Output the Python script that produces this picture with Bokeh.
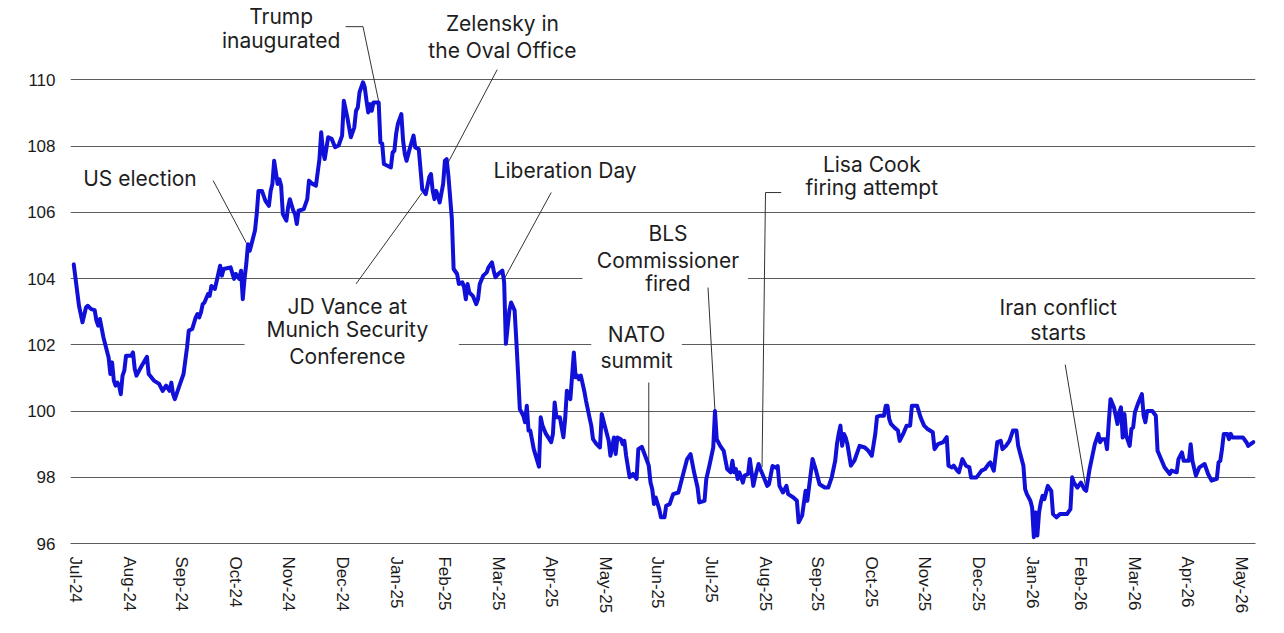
import pandas as pd
from bokeh.plotting import figure
from bokeh.models import Range1d, FixedTicker, ColumnDataSource
from bokeh.core.properties import value
from bokeh.embed import file_html
from bokeh.resources import INLINE

# ---------------- data ----------------
dates = [
    "2024-07-30", "2024-08-02", "2024-08-04", "2024-08-06", "2024-08-07", "2024-08-09", "2024-08-11",
    "2024-08-12", "2024-08-13", "2024-08-14", "2024-08-16", "2024-08-19", "2024-08-20", "2024-08-21",
    "2024-08-22", "2024-08-23", "2024-08-24", "2024-08-25", "2024-08-26", "2024-08-27", "2024-08-28",
    "2024-08-29", "2024-09-01", "2024-09-02", "2024-09-03", "2024-09-04", "2024-09-07", "2024-09-10",
    "2024-09-11", "2024-09-14", "2024-09-17", "2024-09-19", "2024-09-21", "2024-09-23", "2024-09-24",
    "2024-09-25", "2024-09-26", "2024-09-29", "2024-10-01", "2024-10-03", "2024-10-04", "2024-10-06",
    "2024-10-08", "2024-10-09", "2024-10-10", "2024-10-11", "2024-10-12", "2024-10-13", "2024-10-15",
    "2024-10-16", "2024-10-17", "2024-10-19", "2024-10-22", "2024-10-23", "2024-10-24", "2024-10-28",
    "2024-10-30", "2024-10-31", "2024-11-02", "2024-11-03", "2024-11-04", "2024-11-05", "2024-11-06",
    "2024-11-07", "2024-11-08", "2024-11-11", "2024-11-12", "2024-11-13", "2024-11-15", "2024-11-17",
    "2024-11-19", "2024-11-20", "2024-11-21", "2024-11-22", "2024-11-24", "2024-11-25", "2024-11-26",
    "2024-11-27", "2024-11-29", "2024-11-30", "2024-12-01", "2024-12-03", "2024-12-04", "2024-12-05",
    "2024-12-06", "2024-12-09", "2024-12-11", "2024-12-12", "2024-12-14", "2024-12-16", "2024-12-18",
    "2024-12-19", "2024-12-20", "2024-12-21", "2024-12-23", "2024-12-25", "2024-12-27", "2024-12-29",
    "2024-12-31", "2025-01-01", "2025-01-03", "2025-01-05", "2025-01-07", "2025-01-08", "2025-01-09",
    "2025-01-10", "2025-01-12", "2025-01-13", "2025-01-14", "2025-01-15", "2025-01-16", "2025-01-17",
    "2025-01-18", "2025-01-21", "2025-01-22", "2025-01-23", "2025-01-24", "2025-01-26", "2025-01-28",
    "2025-01-29", "2025-01-30", "2025-01-31", "2025-02-01", "2025-02-03", "2025-02-04", "2025-02-05",
    "2025-02-06", "2025-02-08", "2025-02-10", "2025-02-11", "2025-02-13", "2025-02-15", "2025-02-17",
    "2025-02-19", "2025-02-20", "2025-02-21", "2025-02-22", "2025-02-23", "2025-02-24", "2025-02-25",
    "2025-02-27", "2025-02-28", "2025-03-01", "2025-03-02", "2025-03-04", "2025-03-05", "2025-03-07",
    "2025-03-08", "2025-03-10", "2025-03-11", "2025-03-12", "2025-03-13", "2025-03-14", "2025-03-16",
    "2025-03-18", "2025-03-19", "2025-03-20", "2025-03-22", "2025-03-24", "2025-03-25", "2025-03-27",
    "2025-03-28", "2025-03-29", "2025-03-31", "2025-04-02", "2025-04-03", "2025-04-04", "2025-04-06",
    "2025-04-07", "2025-04-09", "2025-04-10", "2025-04-11", "2025-04-12", "2025-04-14", "2025-04-15",
    "2025-04-16", "2025-04-17", "2025-04-18", "2025-04-20", "2025-04-23", "2025-04-24", "2025-04-25",
    "2025-04-27", "2025-04-30", "2025-05-01", "2025-05-02", "2025-05-03", "2025-05-05", "2025-05-07",
    "2025-05-08", "2025-05-09", "2025-05-11", "2025-05-13", "2025-05-14", "2025-05-15", "2025-05-16",
    "2025-05-17", "2025-05-19", "2025-05-20", "2025-05-22", "2025-05-23", "2025-05-24", "2025-05-26",
    "2025-05-28", "2025-05-29", "2025-05-31", "2025-06-02", "2025-06-03", "2025-06-05", "2025-06-06",
    "2025-06-07", "2025-06-09", "2025-06-10", "2025-06-11", "2025-06-12", "2025-06-14", "2025-06-16",
    "2025-06-18", "2025-06-19", "2025-06-21", "2025-06-24", "2025-06-25", "2025-06-26", "2025-06-27",
    "2025-06-28", "2025-06-29", "2025-07-01", "2025-07-02", "2025-07-04", "2025-07-05", "2025-07-07",
    "2025-07-09", "2025-07-12", "2025-07-14", "2025-07-17", "2025-07-19", "2025-07-21", "2025-07-23",
    "2025-07-24", "2025-07-27", "2025-07-28", "2025-07-30", "2025-08-01", "2025-08-02", "2025-08-03",
    "2025-08-05", "2025-08-07", "2025-08-09", "2025-08-11", "2025-08-12", "2025-08-13", "2025-08-14",
    "2025-08-15", "2025-08-16", "2025-08-18", "2025-08-19", "2025-08-21", "2025-08-22", "2025-08-24",
    "2025-08-25", "2025-08-27", "2025-08-28", "2025-08-30", "2025-09-01", "2025-09-02", "2025-09-04",
    "2025-09-06", "2025-09-07", "2025-09-08", "2025-09-10", "2025-09-12", "2025-09-13", "2025-09-16",
    "2025-09-18", "2025-09-19", "2025-09-21", "2025-09-23", "2025-09-24", "2025-09-27", "2025-09-29",
    "2025-10-01", "2025-10-04", "2025-10-06", "2025-10-08", "2025-10-10", "2025-10-11", "2025-10-12",
    "2025-10-13", "2025-10-14", "2025-10-15", "2025-10-16", "2025-10-17", "2025-10-19", "2025-10-21",
    "2025-10-24", "2025-10-27", "2025-10-29", "2025-10-31", "2025-11-02", "2025-11-03", "2025-11-05",
    "2025-11-07", "2025-11-08", "2025-11-09", "2025-11-10", "2025-11-11", "2025-11-13", "2025-11-15",
    "2025-11-16", "2025-11-18", "2025-11-20", "2025-11-22", "2025-11-23", "2025-11-26", "2025-11-28",
    "2025-11-30", "2025-12-02", "2025-12-05", "2025-12-06", "2025-12-08", "2025-12-11", "2025-12-13",
    "2025-12-14", "2025-12-16", "2025-12-17", "2025-12-19", "2025-12-20", "2025-12-22", "2025-12-24",
    "2025-12-26", "2025-12-27", "2025-12-30", "2026-01-02", "2026-01-04", "2026-01-06", "2026-01-07",
    "2026-01-09", "2026-01-11", "2026-01-13", "2026-01-14", "2026-01-16", "2026-01-18", "2026-01-20",
    "2026-01-22", "2026-01-23", "2026-01-24", "2026-01-26", "2026-01-27", "2026-01-28", "2026-01-30",
    "2026-01-31", "2026-02-01", "2026-02-02", "2026-02-03", "2026-02-04", "2026-02-05", "2026-02-06",
    "2026-02-07", "2026-02-09", "2026-02-11", "2026-02-12", "2026-02-14", "2026-02-16", "2026-02-20",
    "2026-02-22", "2026-02-23", "2026-02-24", "2026-02-26", "2026-02-28", "2026-03-02", "2026-03-03",
    "2026-03-05", "2026-03-07", "2026-03-08", "2026-03-10", "2026-03-11", "2026-03-12", "2026-03-14",
    "2026-03-15", "2026-03-16", "2026-03-17", "2026-03-19", "2026-03-20", "2026-03-21", "2026-03-22",
    "2026-03-23", "2026-03-24", "2026-03-25", "2026-03-26", "2026-03-28", "2026-03-29", "2026-03-30",
    "2026-03-31", "2026-04-02", "2026-04-04", "2026-04-05", "2026-04-06", "2026-04-07", "2026-04-10",
    "2026-04-12", "2026-04-13", "2026-04-15", "2026-04-17", "2026-04-20", "2026-04-21", "2026-04-24",
    "2026-04-25", "2026-04-26", "2026-04-27", "2026-04-28", "2026-05-01", "2026-05-02", "2026-05-03",
    "2026-05-05", "2026-05-07", "2026-05-10", "2026-05-12", "2026-05-14", "2026-05-17", "2026-05-18",
    "2026-05-19", "2026-05-20", "2026-05-21", "2026-05-23", "2026-05-24", "2026-05-25", "2026-05-26",
    "2026-06-01", "2026-06-03", "2026-06-04", "2026-06-07",
]

dxy = [
    104.43, 103.18, 102.68, 103.13, 103.18, 103.08, 103.05,
    102.73, 102.58, 102.78, 102.23, 101.62, 101.12, 101.47,
    100.92, 100.77, 100.86, 100.77, 100.51, 101.07, 101.22,
    101.67, 101.67, 101.77, 101.27, 101.07, 101.37, 101.64,
    101.12, 100.92, 100.82, 100.61, 100.77, 100.61, 100.86,
    100.51, 100.36, 100.82, 101.12, 101.92, 102.43, 102.48,
    102.83, 102.93, 102.83, 102.98, 103.23, 103.28, 103.53,
    103.48, 103.78, 103.69, 104.39, 104.09, 104.29, 104.34,
    103.99, 104.14, 103.99, 104.24, 103.38, 103.99, 104.44,
    105.04, 104.84, 105.45, 105.95, 106.65, 106.65, 106.35,
    106.20, 106.65, 106.86, 107.56, 106.86, 107.00, 106.81,
    105.95, 105.75, 106.15, 106.40, 106.05, 105.95, 105.65,
    106.05, 106.10, 106.40, 106.96, 106.86, 106.81, 107.61,
    108.42, 107.86, 107.61, 108.27, 108.22, 107.97, 108.02,
    108.32, 109.37, 108.87, 108.27, 108.57, 109.07, 109.17,
    109.63, 109.93, 109.78, 109.37, 109.02, 109.27, 109.07,
    109.32, 109.32, 108.11, 108.08, 107.46, 107.41, 107.36,
    107.81, 107.86, 108.37, 108.67, 108.97, 108.17, 107.76,
    107.56, 107.96, 108.32, 107.96, 107.91, 106.70, 106.55,
    107.06, 107.16, 106.65, 106.40, 106.65, 106.50, 106.30,
    106.86, 107.56, 107.61, 107.11, 105.80, 104.29, 104.14,
    103.84, 103.89, 103.74, 103.38, 103.84, 103.58, 103.48,
    103.23, 103.38, 103.84, 104.09, 104.19, 104.34, 104.49,
    104.24, 104.04, 104.16, 104.24, 103.89, 102.03, 103.04,
    103.28, 103.04, 102.12, 101.12, 100.06, 99.86, 99.66,
    100.16, 99.41, 99.41, 98.85, 98.32, 99.81, 99.56,
    99.31, 99.06, 99.31, 100.26, 99.81, 99.81, 99.21,
    99.76, 100.61, 100.36, 101.77, 101.02, 101.07, 100.96,
    101.07, 100.60, 100.31, 99.80, 99.56, 99.15, 99.00,
    98.90, 99.91, 99.50, 99.10, 98.65, 99.20, 98.70,
    99.20, 99.15, 99.00, 99.10, 98.65, 98.00, 98.10,
    97.95, 98.85, 98.92, 98.50, 98.35, 97.84, 97.64,
    97.19, 97.39, 97.04, 96.79, 96.79, 97.14, 97.19,
    97.49, 97.54, 97.95, 98.55, 98.70, 98.15, 97.69,
    97.24, 97.29, 97.94, 98.40, 98.90, 100.00, 99.15,
    98.95, 98.80, 98.25, 98.15, 98.50, 98.15, 98.25,
    97.95, 98.15, 97.84, 98.05, 98.10, 98.55, 97.74,
    97.99, 98.40, 98.25, 98.00, 97.74, 97.79, 98.34,
    98.29, 98.34, 97.74, 97.54, 97.74, 97.49, 97.39,
    97.29, 96.64, 96.84, 97.59, 97.29, 98.55, 98.20,
    97.79, 97.69, 97.69, 98.00, 98.50, 99.00, 99.31,
    99.56, 98.95, 99.31, 99.20, 99.00, 98.35, 98.50,
    98.95, 98.90, 98.80, 98.65, 99.31, 99.83, 99.86,
    99.86, 100.16, 100.16, 99.76, 99.61, 99.50, 99.41,
    99.10, 99.31, 99.56, 99.56, 100.16, 100.16, 99.81,
    99.56, 99.46, 99.36, 98.85, 99.00, 99.06, 99.21,
    98.35, 98.30, 98.35, 98.20, 98.15, 98.55, 98.35,
    98.30, 97.99, 97.99, 98.20, 98.25, 98.40, 98.45,
    98.20, 99.06, 99.10, 98.85, 98.95, 99.10, 99.41,
    99.41, 98.95, 98.75, 98.35, 97.64, 97.49, 97.29,
    97.09, 96.19, 96.94, 96.24, 96.94, 97.24, 97.44,
    97.34, 97.74, 97.59, 96.89, 96.79, 96.89, 96.89,
    97.04, 98.00, 97.84, 97.69, 97.84, 97.64, 97.59,
    98.25, 98.75, 99.00, 99.31, 99.06, 99.15, 99.15,
    98.85, 99.66, 100.36, 100.11, 99.86, 99.61, 99.96,
    100.11, 99.20, 99.91, 99.26, 98.95, 99.46, 99.51,
    99.96, 100.26, 100.51, 99.86, 99.66, 100.00, 100.00,
    99.86, 98.80, 98.55, 98.30, 98.10, 98.20, 98.15,
    98.55, 98.65, 98.75, 98.50, 98.50, 99.00, 98.50,
    98.05, 98.30, 98.40, 98.10, 97.90, 97.95, 98.45,
    98.50, 98.85, 99.31, 99.31, 99.15, 99.31, 99.20,
    99.20, 99.06, 98.95, 99.06,
]

month_ticks = [
    "2024-07-31", "2024-08-31", "2024-09-30", "2024-10-31", "2024-11-30", "2024-12-31",
    "2025-01-31", "2025-02-28", "2025-03-31", "2025-04-30", "2025-05-31", "2025-06-30",
    "2025-07-31", "2025-08-31", "2025-09-30", "2025-10-31", "2025-11-30", "2025-12-31",
    "2026-01-31", "2026-02-28", "2026-03-31", "2026-04-30", "2026-05-31",
]
month_labels = [
    "Jul-24", "Aug-24", "Sep-24", "Oct-24", "Nov-24", "Dec-24",
    "Jan-25", "Feb-25", "Mar-25", "Apr-25", "May-25", "Jun-25",
    "Jul-25", "Aug-25", "Sep-25", "Oct-25", "Nov-25", "Dec-25",
    "Jan-26", "Feb-26", "Mar-26", "Apr-26", "May-26",
]
y_ticks = [96, 98, 100, 102, 104, 106, 108, 110]

# ---------------- annotations (text, leader lines, white boxes) ----------------
notes = [
    dict(lines=["Trump", "inaugurated"], x="2024-11-26", ys=[111.91, 111.19],
         lx=["2025-01-02", "2025-01-12", "2025-01-21"], ly=[111.61, 111.61, 109.35]),
    dict(lines=["Zelensky in", "the Oval Office"], x="2025-04-02", ys=[111.72, 110.89],
         lx=["2025-03-30", "2025-02-28"], ly=[110.31, 107.32]),
    dict(lines=["US election"], x="2024-09-06", ys=[107.03],
         lx=["2024-10-18", "2024-11-06"], ly=[106.96, 105.08]),
    dict(lines=["JD Vance at", "Munich Security", "Conference"], x="2025-01-03",
         ys=[103.16, 102.46, 101.65],
         lx=["2025-01-08", "2025-02-15"], ly=[103.84, 106.60],
         box=("2024-11-05", "2025-03-08", 101.16, 103.49)),
    dict(lines=["Liberation Day"], x="2025-05-08", ys=[107.26],
         lx=["2025-04-30", "2025-04-03"], ly=[106.60, 103.99]),
    dict(lines=["BLS", "Commissioner", "fired"], x="2025-07-06", ys=[105.35, 104.54, 103.84],
         lx=["2025-07-29", "2025-08-02"], ly=[103.73, 100.0],
         box=("2025-05-18", "2025-08-21", 103.33, 105.74)),
    dict(lines=["NATO", "summit"], x="2025-06-18", ys=[102.30, 101.52],
         lx=["2025-06-25", "2025-06-25"], ly=[100.86, 97.95],
         box=("2025-05-23", "2025-07-14", 101.07, 102.79)),
    dict(lines=["Lisa Cook", "firing attempt"], x="2025-10-31", ys=[107.46, 106.75],
         lx=["2025-09-09", "2025-08-31", "2025-08-29"], ly=[106.60, 106.60, 98.3]),
    dict(lines=["Iran conflict", "starts"], x="2026-02-15", ys=[103.13, 102.37],
         lx=["2026-02-19", "2026-03-03"], ly=[101.40, 97.62]),
]

# ---------------- figure ----------------
p = figure(
    width=1280, height=628,
    x_axis_type="datetime",
    x_range=Range1d(pd.Timestamp("2024-07-28 03:00"), pd.Timestamp("2026-06-08 05:00")),
    y_range=Range1d(96, 112.4),
    output_backend="svg", toolbar_location=None, tools="",
    min_border_left=70, min_border_right=25, min_border_top=0, min_border_bottom=85,
)
p.outline_line_color = None
p.background_fill_color = "white"
p.border_fill_color = "white"

p.xgrid.grid_line_color = None
p.ygrid.ticker = FixedTicker(ticks=y_ticks)
p.ygrid.grid_line_color = "#5c5c5c"
p.ygrid.grid_line_width = 1

tick_ms = [pd.Timestamp(t).value / 1e6 for t in month_ticks]
p.xaxis.ticker = FixedTicker(ticks=tick_ms)
p.xaxis.major_label_overrides = {ms: lab for ms, lab in zip(tick_ms, month_labels)}
p.xaxis.major_label_orientation = "vertical"
p.xaxis.axis_line_color = "#5c5c5c"
p.xaxis.major_tick_line_color = None
p.xaxis.minor_tick_line_color = None
p.xaxis.major_tick_in = 0
p.xaxis.major_tick_out = 0
p.xaxis.major_label_standoff = 13

p.yaxis.ticker = FixedTicker(ticks=y_ticks)
p.yaxis.axis_line_color = None
p.yaxis.major_tick_line_color = None
p.yaxis.minor_tick_line_color = None
p.yaxis.major_tick_in = 0
p.yaxis.major_tick_out = 0
p.yaxis.major_label_standoff = 15

for ax in (p.xaxis, p.yaxis):
    ax.major_label_text_font = "Liberation Sans"
    ax.major_label_text_font_size = "17px"
    ax.major_label_text_color = "#1a1a1a"

# white boxes behind texts that interrupt grid lines
for n in notes:
    if "box" in n:
        l, r, b, t = n["box"]
        p.quad(left=[pd.Timestamp(l)], right=[pd.Timestamp(r)], bottom=[b], top=[t],
               fill_color="white", line_color=None)

# leader lines
for n in notes:
    p.line(x=pd.to_datetime(n["lx"]), y=n["ly"], line_color="#333333", line_width=1)

# the series
p.line(x=pd.to_datetime(dates), y=dxy, line_color="#1010d8", line_width=4,
       line_join="round", line_cap="round")

# annotation texts
tx, ty, tt = [], [], []
for n in notes:
    for s, yv in zip(n["lines"], n["ys"]):
        tx.append(pd.Timestamp(n["x"]))
        ty.append(yv)
        tt.append(s)
src = ColumnDataSource(dict(x=tx, y=ty, text=tt))
p.text(x="x", y="y", text="text", source=src, text_align="center", text_baseline="middle",
       text_font=value("Inter"), text_font_size="21px", text_color="#1e1e1e")

open("out.html", "w").write(file_html(p, INLINE))
